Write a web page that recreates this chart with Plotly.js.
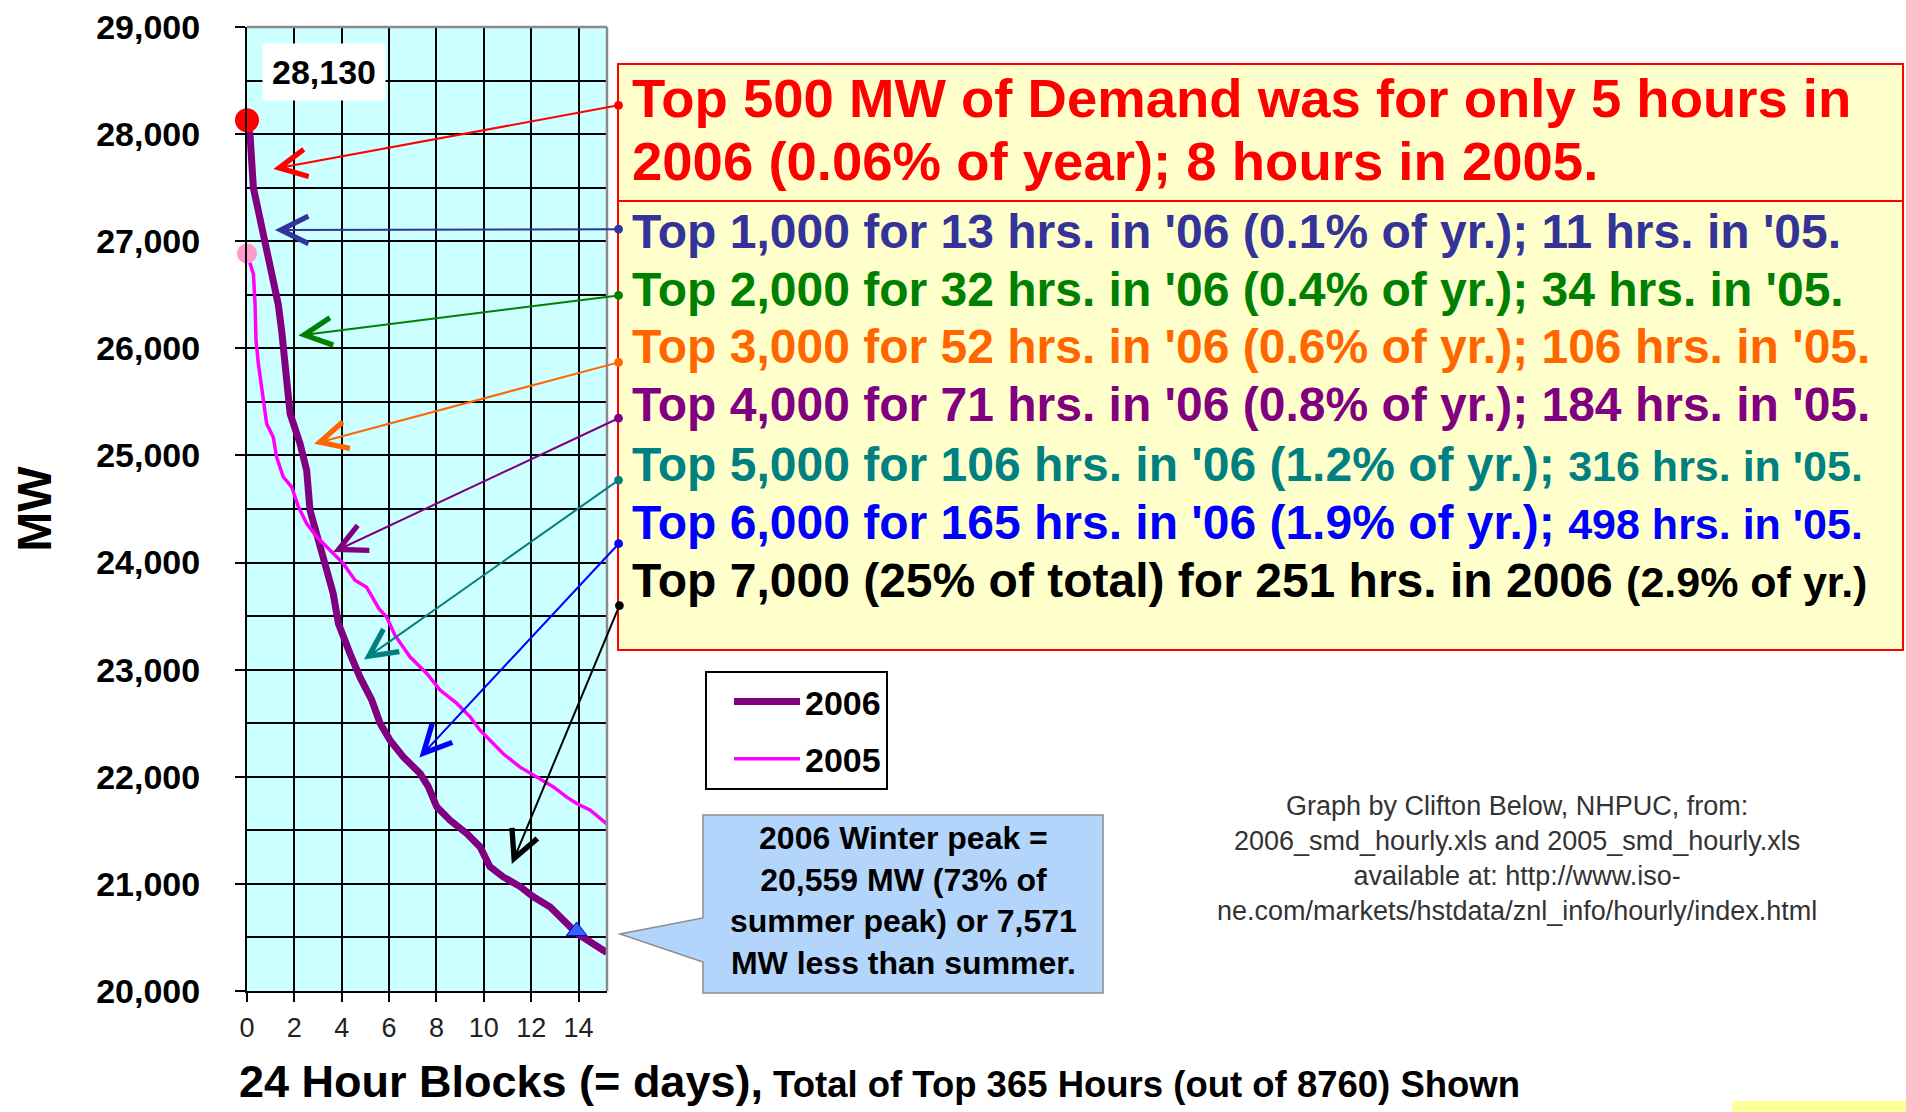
<!DOCTYPE html>
<html>
<head>
<meta charset="utf-8">
<script src="https://cdn.plot.ly/plotly-3.0.1.min.js"></script>
<style>
html,body{margin:0;padding:0;background:#ffffff;}
#chart{width:1906px;height:1112px;}
</style>
</head>
<body>
<div id="chart"></div>
<script>
// ---------------- DATA ----------------
// x = 24-hour blocks (days) of the top 365 hours, y = MW
const days2006 = [0, 0.13, 0.27, 0.55, 0.90, 1.11, 1.32, 1.47, 1.60, 1.82, 2.24, 2.52, 2.66, 2.94, 3.29, 3.64, 3.86, 4.35, 4.77, 5.27, 5.62, 6.04, 6.60, 7.31, 7.66, 8.01, 8.57, 9.28, 9.84, 10.26, 10.82, 11.53, 12.09, 12.80, 13.36, 13.92, 14.48, 15.19];
const mw2006   = [28130, 27985, 27500, 27190, 26880, 26630, 26410, 26150, 25855, 25390, 25110, 24860, 24490, 24240, 23990, 23710, 23430, 23150, 22930, 22715, 22500, 22340, 22185, 22030, 21905, 21720, 21595, 21470, 21345, 21160, 21065, 20975, 20880, 20785, 20660, 20540, 20460, 20360];

const days2005 = [0, 0.27, 0.34, 0.38, 0.48, 0.69, 0.83, 1.11, 1.25, 1.53, 1.89, 2.17, 2.52, 2.94, 3.51, 4.07, 4.56, 5.05, 5.57, 5.90, 6.25, 6.88, 7.59, 8.15, 8.86, 9.42, 9.84, 10.26, 10.82, 11.53, 12.23, 12.94, 13.50, 13.92, 14.48, 15.19];
const mw2005   = [26885, 26695, 26415, 26075, 25855, 25545, 25295, 25170, 24985, 24800, 24705, 24520, 24365, 24240, 24115, 23990, 23835, 23770, 23570, 23490, 23320, 23120, 22965, 22810, 22685, 22560, 22435, 22340, 22215, 22090, 22000, 21905, 21810, 21750, 21690, 21560];

const seriesNames = ['2006', '2005'];
const peakLabel2006 = '28,130';
const winterPeakDay = 13.92;
const winterPeakMW = 20559;

const xRange = [0, 15.2];
const yRange = [20000, 29000];
const xTickStep = 2;
const yTickStep = 1000;
const yMinorStep = 500;

// arrows: target on the chart (days, MW) and start level (MW) at the note box
const noteTargetDays = [1.11, 1.18, 2.17, 2.83, 3.64, 4.94, 7.28, 11.18];
const noteTargetMW   = [27674, 27105, 26119, 25109, 24098, 23094, 22180, 21185];
const noteStartMW    = [28271, 27112, 26496, 25873, 25354, 24780, 24190, 23612];
const noteStartDay   = 15.75;

const noteLines = [
  "Top 500 MW of Demand was for only 5 hours in",
  "2006 (0.06% of year); 8 hours in 2005.",
  "Top 1,000 for 13 hrs. in '06 (0.1% of yr.); 11 hrs. in '05.",
  "Top 2,000 for 32 hrs. in '06 (0.4% of yr.); 34 hrs. in '05.",
  "Top 3,000 for 52 hrs. in '06 (0.6% of yr.); 106 hrs. in '05.",
  "Top 4,000 for 71 hrs. in '06 (0.8% of yr.); 184 hrs. in '05.",
  "Top 5,000 for 106 hrs. in '06 (1.2% of yr.); ",
  "Top 6,000 for 165 hrs. in '06 (1.9% of yr.); ",
  "Top 7,000 (25% of total) for 251 hrs. in 2006 "
];
const noteTails = ["", "", "", "", "", "", "316 hrs. in '05.", "498 hrs. in '05.", "(2.9% of yr.)"];

const calloutText = ['2006 Winter peak =', '20,559 MW (73% of', 'summer peak) or 7,571', 'MW less than summer.'];
const creditText = ['Graph by Clifton Below, NHPUC, from:', '2006_smd_hourly.xls and 2005_smd_hourly.xls', 'available at: http://www.iso-', 'ne.com/markets/hstdata/znl_info/hourly/index.html'];
const xTitleMain = '24 Hour Blocks (= days),';
const xTitleSub = ' Total of Top 365 Hours (out of 8760) Shown';
const yTitle = 'MW';

// ---------------- STYLE / LAYOUT ----------------
const FONT = 'Liberation Sans, Arial, Helvetica, sans-serif';
const W = 1906, H = 1112;
const L = 247, R = 607, T = 27, B = 991;
const px = x => (x - L) / (R - L);
const py = y => (B - y) / (B - T);

const noteColors = ['#FF0000', '#FF0000', '#333399', '#008000', '#FF6600', '#800080', '#008080', '#0000FF', '#000000'];
const arrowColors = ['#FF0000', '#333399', '#008000', '#FF6600', '#800080', '#008080', '#0000FF', '#000000'];
const noteY = [98.5, 161.7, 231.8, 289.2, 346.6, 404, 464, 522.6, 580];

const traces = [
  {
    x: days2006, y: mw2006, name: seriesNames[0], type: 'scatter', mode: 'lines',
    line: {color: '#800080', width: 7}, legendgroup: 'a'
  },
  {
    x: days2005, y: mw2005, name: seriesNames[1], type: 'scatter', mode: 'lines',
    line: {color: '#FF00FF', width: 3.5}, legendgroup: 'b'
  },
  {
    x: [days2006[0]], y: [mw2006[0]], type: 'scatter', mode: 'markers', showlegend: false,
    marker: {size: 24, color: '#FF0000'}, cliponaxis: false, hoverinfo: 'skip'
  },
  {
    x: [days2005[0]], y: [mw2005[0]], type: 'scatter', mode: 'markers', showlegend: false,
    marker: {size: 20, color: '#FF99CC'}, cliponaxis: false, hoverinfo: 'skip'
  },
  {
    x: [winterPeakDay], y: [winterPeakMW], type: 'scatter', mode: 'markers', showlegend: false,
    marker: {size: 18, symbol: 'triangle-up', color: '#3366FF', line: {color: '#0000CC', width: 1}},
    cliponaxis: false, hoverinfo: 'skip'
  }
];

const annotations = [];

// note text lines
noteLines.forEach((t, i) => {
  const big = i < 2;
  let txt = '<b>' + t + (noteTails[i] ? '<span style="font-size:43px">' + noteTails[i] + '</span>' : '') + '</b>';
  annotations.push({
    xref: 'paper', yref: 'paper', x: px(630), y: py(noteY[i]),
    xanchor: 'left', yanchor: 'middle', showarrow: false,
    text: txt, font: {family: FONT, size: big ? 54.5 : 48, color: noteColors[i]}
  });
});

// arrows
noteTargetDays.forEach((d, i) => {
  annotations.push({
    xref: 'x', yref: 'y', x: d, y: noteTargetMW[i],
    axref: 'x', ayref: 'y', ax: noteStartDay, ay: noteStartMW[i],
    text: '', showarrow: true, arrowhead: 5, arrowsize: 2.7, arrowwidth: 2,
    arrowcolor: arrowColors[i], startarrowhead: 6, startarrowsize: 1.1, arrowside: 'end+start',
    standoff: 0, startstandoff: 0
  });
});

// peak label
annotations.push({
  xref: 'paper', yref: 'paper', x: px(324), y: py(71.7), xanchor: 'center', yanchor: 'middle',
  showarrow: false, text: '<b>' + peakLabel2006 + '</b>', bgcolor: '#FFFFFF', borderpad: 9,
  font: {family: FONT, size: 34, color: '#000000'}
});

// callout text
annotations.push({
  xref: 'paper', yref: 'paper', x: px(903), y: py(900), xanchor: 'center', yanchor: 'middle',
  showarrow: false, align: 'center', text: '<b>' + calloutText.join('<br>') + '</b>',
  font: {family: FONT, size: 32, color: '#000000'}
});

// credits
annotations.push({
  xref: 'paper', yref: 'paper', x: px(1517), y: py(858), xanchor: 'center', yanchor: 'middle',
  showarrow: false, align: 'center', text: creditText.join('<br>'),
  font: {family: FONT, size: 27, color: '#333333'}
});

// x axis title
annotations.push({
  xref: 'paper', yref: 'paper', x: px(238), y: py(1081), xanchor: 'left', yanchor: 'middle',
  showarrow: false, borderpad: 0,
  text: '<b>' + xTitleMain + '<span style="font-size:36.5px">' + xTitleSub + '</span></b>',
  font: {family: FONT, size: 45, color: '#000000'}
});

const shapes = [
  // note boxes
  {type: 'rect', xref: 'paper', yref: 'paper', x0: px(618), x1: px(1903), y0: py(64), y1: py(201),
   fillcolor: '#FFFFCC', line: {color: '#FF0000', width: 2}, layer: 'below'},
  {type: 'rect', xref: 'paper', yref: 'paper', x0: px(618), x1: px(1903), y0: py(201), y1: py(650),
   fillcolor: '#FFFFCC', line: {color: '#FF0000', width: 2}, layer: 'below'},
  // callout
  {type: 'path', xref: 'paper', yref: 'paper', layer: 'below',
   path: `M${px(703)},${py(815)} L${px(1103)},${py(815)} L${px(1103)},${py(993)} L${px(703)},${py(993)} L${px(703)},${py(962)} L${px(620)},${py(934)} L${px(703)},${py(918)} Z`,
   fillcolor: '#B4D5FB', line: {color: '#8C8C8C', width: 1.5}},
  // plot border top/right (gray)
  {type: 'line', xref: 'paper', yref: 'paper', x0: 0, x1: 1, y0: 1, y1: 1, line: {color: '#8A8A8A', width: 2.5}, layer: 'above'},
  {type: 'line', xref: 'paper', yref: 'paper', x0: 1, x1: 1, y0: 0, y1: 1, line: {color: '#8A8A8A', width: 2.5}, layer: 'above'},
  // small yellow strip bottom right
  {type: 'rect', xref: 'paper', yref: 'paper', x0: px(1732), x1: px(1906), y0: py(1101), y1: py(1112),
   fillcolor: '#FFFF99', line: {width: 0}, layer: 'below'}
];

const layout = {
  width: W, height: H,
  margin: {l: L, r: W - R, t: T, b: H - B, autoexpand: false},
  paper_bgcolor: '#FFFFFF',
  plot_bgcolor: '#CCFFFF',
  font: {family: FONT, color: '#000000'},
  showlegend: true,
  legend: {
    x: px(705), y: py(671), xanchor: 'left', yanchor: 'top',
    bgcolor: '#FFFFFF', bordercolor: '#000000', borderwidth: 2,
    font: {family: FONT, size: 34, color: '#000000', weight: 700},
    tracegroupgap: 10, itemwidth: 66, indentation: 22
  },
  xaxis: {
    range: xRange, dtick: xTickStep, tick0: 0, showgrid: true, gridcolor: '#000000', gridwidth: 2,
    zeroline: false, showline: true, linecolor: '#000000', linewidth: 2,
    ticks: 'outside', ticklen: 9, tickwidth: 2, tickcolor: '#000000',
    tickfont: {family: FONT, size: 27, color: '#222222'}, ticklabelstandoff: 3,
    automargin: false, fixedrange: true
  },
  yaxis: {
    range: yRange, dtick: yTickStep, tick0: 20000, tickformat: ',d',
    showgrid: true, gridcolor: '#000000', gridwidth: 2,
    minor: {dtick: yMinorStep, showgrid: true, gridcolor: '#000000', gridwidth: 2, ticks: ''},
    zeroline: false, showline: true, linecolor: '#000000', linewidth: 2,
    ticks: 'outside', ticklen: 10, tickwidth: 2, tickcolor: '#000000',
    tickfont: {family: FONT, size: 34, color: '#000000', weight: 700}, ticklabelstandoff: 28,
    title: {text: '<b>' + yTitle + '</b>', font: {family: FONT, size: 48, color: '#000000'}, standoff: 29},
    automargin: false, fixedrange: true
  },
  annotations: annotations,
  shapes: shapes
};

Plotly.newPlot('chart', traces, layout, {displayModeBar: false, staticPlot: true});
</script>
</body>
</html>
